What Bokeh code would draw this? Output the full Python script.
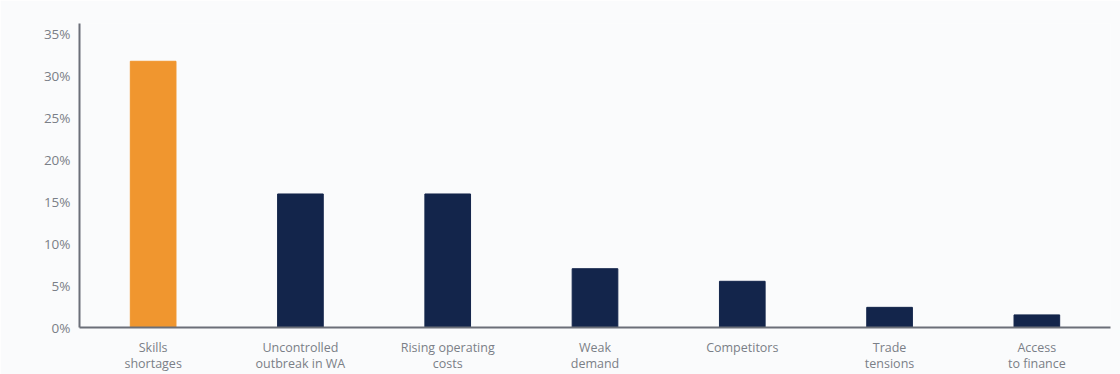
from bokeh.plotting import figure
from bokeh.models import ColumnDataSource, FactorRange, Range1d, FixedTicker
from bokeh.embed import file_html
from bokeh.resources import INLINE

categories = ["Skills\nshortages", "Uncontrolled\noutbreak in WA", "Rising operating\ncosts",
              "Weak\ndemand", "Competitors", "Trade\ntensions", "Access\nto finance"]
values = [31.7, 15.9, 15.9, 7.0, 5.5, 2.4, 1.5]
colors = ["#f0962f", "#13254b", "#13254b", "#13254b", "#13254b", "#13254b", "#13254b"]
y_ticks = [0, 5, 10, 15, 20, 25, 30, 35]

src = ColumnDataSource(dict(cat=categories, val=values, color=colors))

p = figure(x_range=FactorRange(*categories, range_padding=0), y_range=Range1d(0, 36.2),
           width=1120, height=374, output_backend="svg", toolbar_location=None,
           min_border_left=79, min_border_right=10, min_border_top=23, min_border_bottom=0)
p.vbar(x="cat", top="val", width=0.31, color="color", source=src)

p.background_fill_color = "#fafbfc"
p.border_fill_color = "#fafbfc"
p.outline_line_color = None
p.xgrid.visible = False
p.ygrid.visible = False

p.yaxis.ticker = FixedTicker(ticks=y_ticks)
p.yaxis.major_label_overrides = {t: f"{t}%" for t in y_ticks}

for ax in (p.xaxis, p.yaxis):
    ax.axis_line_color = "#6b6f78"
    ax.axis_line_width = 2
    ax.major_tick_line_color = None
    ax.minor_tick_line_color = None
    ax.major_tick_out = 0
    ax.major_tick_in = 0
    ax.minor_tick_out = 0
    ax.major_label_text_font = "Open Sans"
    ax.major_label_text_color = "#7a7f87"
p.yaxis.major_label_text_font_size = "13.5px"
p.xaxis.major_label_text_font_size = "12.5px"
p.xaxis.major_label_text_line_height = 0.95
p.yaxis.major_label_standoff = 9
p.xaxis.major_label_standoff = 11

open("out.html", "w").write(file_html(p, INLINE))
